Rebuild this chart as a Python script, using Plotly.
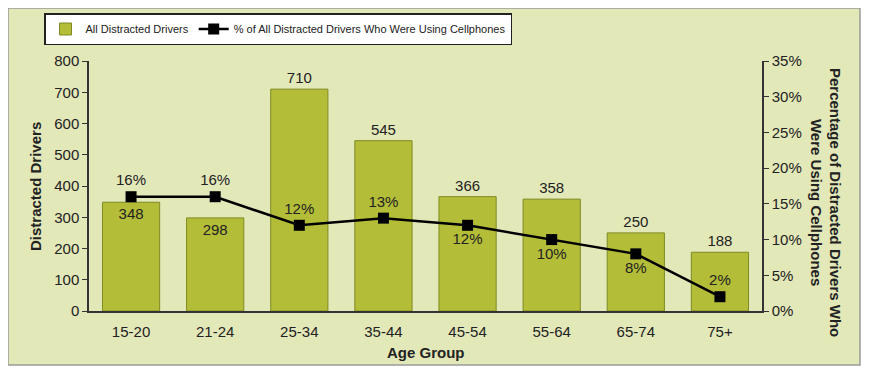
import plotly.graph_objects as go

age_groups = ["15-20", "21-24", "25-34", "35-44", "45-54", "55-64", "65-74", "75+"]
distracted_drivers = [348, 298, 710, 545, 366, 358, 250, 188]
pct_cellphone = [16, 16, 12, 13, 12, 10, 8, 2]
bar_text_pos = ["inside", "inside", "outside", "outside", "outside", "outside", "outside", "outside"]
pct_text_pos = ["top center", "top center", "top center", "top center",
                "bottom center", "bottom center", "bottom center", "top center"]

OFF = 8  # browser body margin
W, H = 869 - OFF, 377 - OFF
PL, PR, PT, PB = 89, 762, 61, 311  # plot area in window pixels
L, R, T, B = PL - OFF, W - (PR - OFF), PT - OFF, H - (PB - OFF)
pw, ph = W - L - R, H - T - B

def px_x(x):
    return (x - OFF - L) / pw

def px_y(y):
    return 1 - (y - OFF - T) / ph

bg = "#e3e8b9"
bar_col = "#b3bd38"
txt = "#222222"
font = "Arial, Liberation Sans, sans-serif"

fig = go.Figure()
fig.add_trace(go.Bar(
    x=age_groups, y=distracted_drivers, name="All Distracted Drivers",
    marker=dict(color=bar_col, line=dict(color="#7f8a22", width=1)),
    text=[str(v) for v in distracted_drivers], textposition=bar_text_pos,
    insidetextanchor="end", textangle=0,
    textfont=dict(size=15, color=txt, family=font),
    cliponaxis=False,
))
fig.add_trace(go.Scatter(
    x=age_groups, y=pct_cellphone, yaxis="y2", mode="lines+markers+text",
    name="% of All Distracted Drivers Who Were Using Cellphones",
    line=dict(color="black", width=2.5),
    marker=dict(symbol="square", size=11, color="black"),
    text=[f"{v}%" for v in pct_cellphone], textposition=pct_text_pos,
    textfont=dict(size=15, color=txt, family=font),
    cliponaxis=False,
))

fig.update_layout(
    width=W, height=H,
    margin=dict(l=L, r=R, t=T, b=B, autoexpand=False),
    paper_bgcolor="white", plot_bgcolor="white",
    font=dict(family=font, size=15, color=txt),
    bargap=0.32,
    showlegend=True,
    legend=dict(
        orientation="h", x=px_x(44), y=px_y(13), xanchor="left", yanchor="top",
        bgcolor="white", bordercolor="#222222", borderwidth=1.5,
        font=dict(size=11, color=txt, family=font),
        itemwidth=30,
    ),
    xaxis=dict(
        automargin=False,
        showline=True, linecolor="#333333", linewidth=1.5,
        ticks="", tickfont=dict(size=15, color=txt), ticklabelstandoff=6,
        showgrid=False,
    ),
    yaxis=dict(
        automargin=False,
        range=[0, 800], dtick=100, showline=True, linecolor="#333333", linewidth=1.5,
        ticks="outside", ticklen=5, tickcolor="#333333",
        tickfont=dict(size=15, color=txt), showgrid=False, zeroline=False,
    ),
    yaxis2=dict(
        automargin=False,
        overlaying="y", side="right", range=[0, 35], dtick=5, ticksuffix="%",
        showline=True, linecolor="#333333", linewidth=1.5,
        ticks="outside", ticklen=5, tickcolor="#333333",
        tickfont=dict(size=15, color=txt), showgrid=False, zeroline=False,
    ),
    annotations=[
        dict(text="<b>Age Group</b>", xref="paper", yref="paper",
             x=0.5, y=px_y(352), xanchor="center", yanchor="middle", showarrow=False,
             font=dict(size=15, color=txt)),
        dict(text="<b>Distracted Drivers</b>", xref="paper", yref="paper",
             x=px_x(35), y=px_y(186), xanchor="center", yanchor="middle", showarrow=False,
             textangle=-90, font=dict(size=15, color=txt)),
        dict(text="<b>Percentage of Distracted Drivers Who<br>Were Using Cellphones</b>",
             xref="paper", yref="paper",
             x=px_x(826), y=px_y(202), xanchor="center", yanchor="middle", showarrow=False,
             textangle=90, font=dict(size=15, color=txt)),
    ],
    shapes=[dict(
        type="rect", xref="paper", yref="paper",
        x0=px_x(8), x1=px_x(860), y0=px_y(365), y1=px_y(8),
        line=dict(color="#9a9a9a", width=1.5), fillcolor=bg, layer="below",
    )],
)

fig.write_html("out.html")
